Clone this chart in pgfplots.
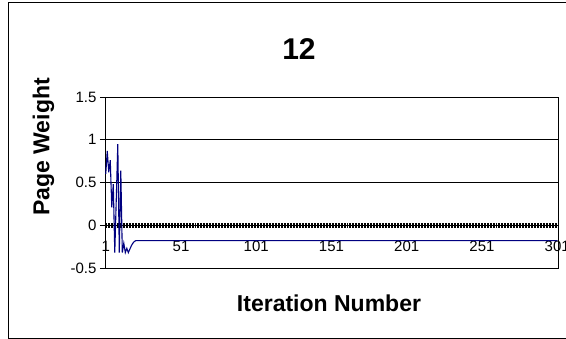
\documentclass[border=0pt]{standalone}
\usepackage{pgfplots}
\pgfplotsset{compat=1.18}
\usepackage{fontspec}
\setmainfont{Liberation Sans}
\definecolor{navyline}{RGB}{0,0,128}
\begin{document}
\begin{tikzpicture}[x=1pt,y=1pt]
\clip (0,0) rectangle (566,339);
\draw[line width=0.9pt] (8,1) rectangle (600,336.5);
\node[font=\bfseries\fontsize{30}{32}\selectfont] at (299,290) {12};
\node[font=\bfseries\fontsize{23}{26}\selectfont, rotate=90] at (43.5,192) {Page Weight};
\node[font=\bfseries\fontsize{23}{26}\selectfont] at (329,36) {Iteration Number};
\begin{axis}[
  at={(105pt,71pt)}, anchor=south west,
  width=453pt, height=171pt, scale only axis,
  xmin=0.5, xmax=301.5, ymin=-0.5, ymax=1.5,
  axis x line=middle, axis y line=left,
  axis line style={-, line width=0.9pt},
  /pgf/number format/assume math mode=true,
  ticklabel style={font=\fontsize{15}{17}\selectfont},
  ytick={-0.5,0,0.5,1,1.5},
  yticklabels={-0.5,0,0.5,1,1.5},
  ytick align=outside, ytick pos=left,
  ymajorgrids, grid style={black, line width=0.6pt},
  major y tick style={black, line width=0.6pt},
  major tick length=5pt,
  xtick={0.5,1.5,...,301.5},
  xticklabels={},
  x tick style={black, line width=0.6pt},
  xtick align=center,
  extra x ticks={1,51,101,151,201,251,301},
  extra x tick labels={1,51,101,151,201,251,301},
  extra x tick style={major tick length=0pt, xticklabel style={yshift=-12pt}},
  clip=false,
]
\draw[line width=0.9pt] (rel axis cs:0,0) rectangle (rel axis cs:1,1);
\addplot[navyline, line width=1.1pt, mark=none] coordinates {
(1,0.60) (2,0.87) (3,0.62) (4,0.76) (5,0.21) (6,0.48) (7,-0.32) (8,0.31)
(9,0.95) (10,-0.32) (11,0.64) (12,-0.32) (13,-0.21) (14,-0.32) (15,-0.27)
(16,-0.32) (17,-0.28) (18,-0.24) (19,-0.21) (20,-0.19) (21,-0.18) (301,-0.18)
};
\end{axis}
\end{tikzpicture}
\end{document}
